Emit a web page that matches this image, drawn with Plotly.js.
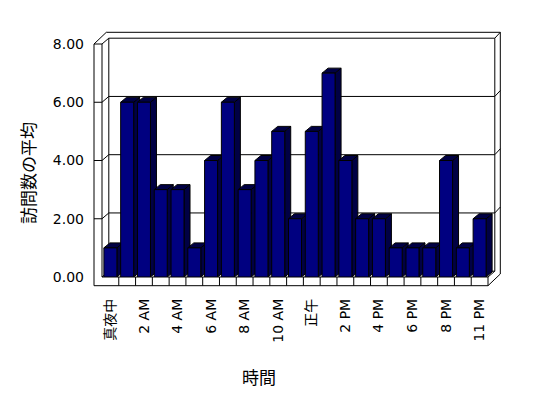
<!DOCTYPE html>
<html><head><meta charset="utf-8">
<script src="https://cdn.plot.ly/plotly-3.0.1.min.js"></script>
<style>html,body{margin:0;padding:0;background:#fff}#chart{width:548px;height:398px}</style>
</head><body><div id="chart"></div>
<script>
// ---- data ----
const hours = ["真夜中","1 AM","2 AM","3 AM","4 AM","5 AM","6 AM","7 AM","8 AM","9 AM","10 AM","11 AM","正午","1 PM","2 PM","3 PM","4 PM","5 PM","6 PM","7 PM","8 PM","9 PM","11 PM"];
const visits = [1,6,6,3,3,1,4,6,3,4,5,2,5,7,4,2,2,1,1,1,4,1,2];
const xTickLabels = ["真夜中","2 AM","4 AM","6 AM","8 AM","10 AM","正午","2 PM","4 PM","6 PM","8 PM","11 PM"];
const yTickVals = [0,2,4,6,8];
const yTickText = ["0.00","2.00","4.00","6.00","8.00"];
const yTitle = "訪問数の平均";
const xTitle = "時間";

// ---- layout geometry (pixels) ----
const W = 548, H = 398;
const FL = 102, FR = 488, FB = 277, FT = 44;   // front plane of the box
const PR = 502, PT = 30;                        // plot area extends to hold the depth
const YMAX = 8;
const WALL = 8, FLOOR = 8.7;                    // wall/floor thickness
const D1 = [6.8, 5.8], D2 = [12.3, 11.7];       // inner and outer depth offsets
const BD = [6, 5];                              // bar depth
const BARGAP = 0.225;
const unitX = (FR - FL) / hours.length;
const unitY = (FB - FT) / YMAX;
const hw = (1 - BARGAP) * unitX / 2;

const shapes = [];
const ln = {color: 'black', width: 1};
function P(pts){ return pts.map((p,k)=>(k?'L ':'M ')+(p[0]-FL).toFixed(2)+' '+(FB-p[1]).toFixed(2)).join(' '); }
function frame(pts, fill){
  shapes.push({type:'path', xref:'paper', yref:'paper', xsizemode:'pixel', ysizemode:'pixel',
    xanchor:0, yanchor:0, path:P(pts)+(fill?' Z':''), line:ln, fillcolor: fill||'rgba(0,0,0,0)', layer:'below'});
}
// left wall + floor front face
frame([[FL-WALL,FT],[FL,FT],[FL,FB],[FR,FB],[FR,FB+FLOOR],[FL-WALL,FB+FLOOR]], 'white');
// left wall top diagonals and back wall edges
frame([[FL-WALL,FT],[FL-WALL+D2[0],FT-D2[1]],[FR+D2[0],FT-D2[1]],[FR+D2[0],FB+FLOOR-D2[1]],[FR,FB+FLOOR]]);
frame([[FL,FT],[FL+D1[0],FT-D1[1]],[FR+D1[0],FT-D1[1]],[FR+D2[0],FT-D2[1]]]);
frame([[FL+D1[0],FT-D1[1]],[FL+D1[0],FB-D1[1]]]);
frame([[FR+D1[0],FT-D1[1]],[FR+D1[0],FB-D1[1]]]);
frame([[FL,FB],[FL+D1[0],FB-D1[1]],[FR+D1[0],FB-D1[1]],[FR,FB]]);
// back-wall gridlines + wall ticks
yTickVals.forEach(v=>{
  if (v === 0 || v === YMAX) return;
  shapes.push({type:'path', xref:'paper', yref:'y', xsizemode:'pixel', ysizemode:'pixel',
    xanchor:0, yanchor:v, layer:'below', line:ln,
    path:`M ${-WALL} 0 L 0 0 L ${D1[0]} ${D1[1]} L ${FR-FL+D1[0]} ${D1[1]} L ${FR-FL+D2[0]} ${D2[1]}`});
});
// floor front separators at category boundaries
for (let i = 0; i < hours.length - 1; i++) {
  shapes.push({type:'line', xref:'x', yref:'paper', ysizemode:'pixel', yanchor:0,
    x0:i+0.5, x1:i+0.5, y0:0, y1:-FLOOR, line:ln, layer:'below'});
}
// bar side + top faces
visits.forEach((v,i)=>{
  const h = v * unitY;
  shapes.push({type:'path', xref:'x', yref:'y', xsizemode:'pixel', ysizemode:'pixel',
    xanchor:i, yanchor:v, layer:'between', line:{color:'black',width:1}, fillcolor:'#000044',
    path:`M ${hw} 0 L ${hw+BD[0]} ${BD[1]} L ${hw+BD[0]} ${BD[1]-h} L ${hw} ${-h} Z`});
  shapes.push({type:'path', xref:'x', yref:'y', xsizemode:'pixel', ysizemode:'pixel',
    xanchor:i, yanchor:v, layer:'between', line:{color:'black',width:1}, fillcolor:'#000044',
    path:`M ${-hw} 0 L ${hw} 0 L ${hw+BD[0]} ${BD[1]} L ${-hw+BD[0]} ${BD[1]} Z`});
});

function px2x(px){ return (px - FL) / (PR - FL); }
function px2y(py){ return (FB - py) / (FB - PT); }

const trace = {
  type:'bar', x:hours, y:visits,
  marker:{color:'#000080', line:{color:'black', width:1}},
  hoverinfo:'skip'
};

const tickFont = {family:'DejaVu Sans, Noto Sans CJK JP, sans-serif', size:14, color:'black'};
const layout = {
  width:W, height:H,
  margin:{l:FL, r:W-PR, t:PT, b:H-FB, pad:0},
  paper_bgcolor:'white', plot_bgcolor:'rgba(0,0,0,0)',
  showlegend:false, bargap:BARGAP,
  xaxis:{type:'category', range:[-0.5, -0.5 + (PR-FL)/unitX], tickmode:'array',
    tickvals:xTickLabels, ticktext:xTickLabels, tickangle:-90, ticks:'',
    ticklabelstandoff:18, showline:false, showgrid:false, zeroline:false, tickfont:tickFont, fixedrange:true},
  yaxis:{range:[0, (FB-PT)/unitY], tickmode:'array', tickvals:yTickVals, ticktext:yTickText,
    ticks:'', ticklabelstandoff:17, showline:false, showgrid:false, zeroline:false, tickfont:tickFont, fixedrange:true},
  shapes:shapes,
  annotations:[
    {text:yTitle, xref:'paper', yref:'paper', x:px2x(27), y:px2y(173), textangle:-90,
     showarrow:false, xanchor:'center', yanchor:'middle',
     font:{family:'Noto Sans CJK JP, sans-serif', size:17, color:'black'}},
    {text:xTitle, xref:'paper', yref:'paper', x:px2x(259), y:px2y(376),
     showarrow:false, xanchor:'center', yanchor:'middle',
     font:{family:'Noto Sans CJK JP, sans-serif', size:17, color:'black'}}
  ]
};
Plotly.newPlot('chart', [trace], layout, {staticPlot:true, displayModeBar:false});
</script></body></html>
